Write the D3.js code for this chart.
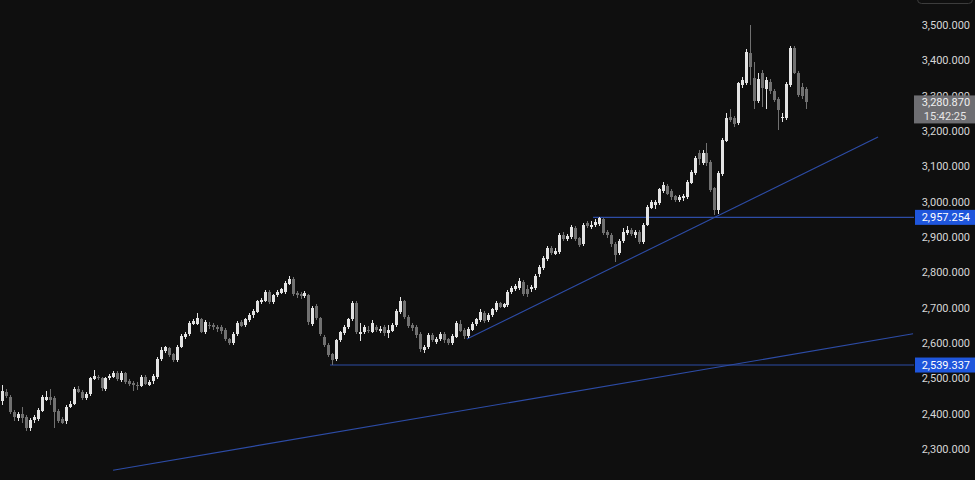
<!DOCTYPE html>
<html><head><meta charset="utf-8">
<script src="https://cdn.jsdelivr.net/npm/d3@7"></script>
<style>html,body{margin:0;padding:0;background:#0f0f0f;}svg{display:block;}</style>
</head><body>
<svg id="chart" width="975" height="480"></svg>
<script>
const opens = [
2435,2462,2448,2405,2388,2400,2390,2360,2383,2385,
2408,2440,2448,2445,2408,2385,2378,2420,2428,2470,
2462,2443,2455,2498,2505,2502,2470,2500,2505,2515,
2495,2515,2492,2486,2482,2478,2505,2482,2492,2505,
2555,2578,2585,2568,2552,2588,2618,2625,2655,2655,
2668,2632,2652,2650,2645,2645,2638,2612,2600,2625,
2660,2650,2665,2678,2688,2715,2718,2745,2715,2735,
2742,2745,2768,2782,2742,2740,2733,2735,2655,2705,
2672,2618,2595,2568,2555,2608,2628,2645,2668,2713,
2625,2632,2638,2632,2645,2633,2645,2628,2635,2650,
2688,2718,2675,2650,2645,2625,2580,2588,2622,2603,
2610,2625,2610,2600,2618,2655,2638,2620,2638,2653,
2665,2685,2665,2678,2693,2712,2703,2708,2745,2752,
2755,2772,2752,2752,2755,2795,2812,2838,2870,2853,
2857,2905,2893,2900,2925,2897,2880,2940,2928,2933,
2938,2950,2915,2905,2880,2855,2888,2912,2920,2905,
2915,2885,2935,2983,2990,2995,3030,3045,3030,3015,
3005,3010,3013,3053,3080,3138,3110,3138,3112,3038,
2976,3078,3172,3240,3236,3222,3330,3335,3422,3350,
3285,3365,3318,3340,3312,3290,3237,3238,3330,3435,
3365,3325,3320];
const highs = [
2480,2470,2452,2410,2405,2420,2395,2388,2395,2415,
2452,2465,2470,2450,2412,2390,2425,2435,2475,2478,
2468,2460,2505,2525,2510,2505,2505,2512,2522,2520,
2520,2518,2498,2492,2490,2510,2510,2495,2512,2560,
2590,2592,2590,2572,2595,2625,2632,2662,2668,2685,
2672,2665,2660,2658,2652,2650,2642,2615,2630,2662,
2665,2672,2685,2695,2722,2728,2750,2750,2740,2750,
2756,2775,2790,2788,2748,2745,2748,2740,2705,2710,
2675,2622,2600,2572,2612,2635,2650,2672,2720,2718,
2658,2652,2648,2665,2652,2648,2650,2652,2658,2695,
2730,2722,2680,2656,2650,2630,2595,2628,2628,2618,
2632,2630,2615,2625,2662,2665,2642,2645,2660,2672,
2695,2690,2685,2700,2718,2716,2714,2750,2760,2768,
2785,2778,2765,2765,2795,2820,2845,2875,2875,2868,
2910,2915,2908,2935,2930,2900,2940,2945,2945,2950,
2958,2955,2920,2910,2885,2893,2925,2930,2925,2920,
2920,2940,2990,3005,3005,3040,3055,3050,3035,3020,
3020,3022,3060,3090,3130,3146,3145,3166,3118,3042,
3088,3180,3250,3262,3242,3340,3352,3432,3500,3395,
3365,3372,3352,3348,3318,3296,3250,3338,3440,3440,
3370,3335,3325];
const lows = [
2425,2445,2400,2380,2380,2375,2350,2352,2375,2380,
2405,2435,2425,2360,2375,2370,2372,2415,2425,2458,
2440,2438,2450,2495,2495,2465,2465,2495,2500,2492,
2490,2485,2478,2465,2468,2475,2480,2478,2485,2497,
2550,2572,2560,2545,2545,2585,2612,2620,2650,2650,
2628,2625,2640,2638,2632,2625,2605,2595,2595,2620,
2645,2645,2660,2672,2685,2710,2715,2710,2710,2730,
2738,2740,2765,2732,2728,2725,2728,2652,2648,2665,
2620,2590,2560,2539,2548,2603,2622,2640,2663,2625,
2605,2625,2628,2628,2630,2628,2620,2615,2630,2645,
2683,2668,2642,2635,2615,2575,2572,2583,2603,2598,
2605,2600,2595,2595,2613,2630,2610,2615,2633,2648,
2660,2658,2660,2673,2688,2698,2698,2703,2740,2748,
2750,2732,2730,2745,2750,2788,2808,2833,2850,2848,
2852,2890,2888,2895,2890,2872,2874,2925,2922,2928,
2930,2905,2898,2872,2830,2850,2883,2905,2902,2898,
2880,2880,2930,2978,2980,2990,3025,3018,3005,3000,
3000,3003,3008,3050,3075,3105,3105,3102,3028,2962,
2966,3072,3168,3225,3212,3218,3322,3330,3330,3262,
3278,3268,3262,3305,3282,3203,3225,3230,3325,3360,
3296,3290,3262];
const closes = [
2465,2450,2405,2390,2400,2388,2360,2383,2390,2410,
2448,2448,2440,2405,2380,2375,2420,2428,2470,2462,
2445,2455,2500,2508,2500,2472,2502,2508,2516,2497,
2515,2490,2485,2480,2478,2505,2485,2490,2508,2555,
2580,2588,2565,2552,2590,2620,2626,2658,2661,2672,
2632,2660,2648,2645,2640,2635,2612,2600,2625,2658,
2648,2667,2680,2690,2718,2722,2745,2715,2735,2745,
2752,2770,2782,2738,2735,2733,2742,2660,2700,2670,
2625,2595,2565,2553,2608,2630,2645,2668,2713,2632,
2632,2645,2634,2658,2638,2640,2628,2637,2652,2690,
2718,2673,2648,2643,2622,2582,2590,2622,2608,2612,
2625,2608,2600,2620,2657,2635,2620,2640,2655,2668,
2688,2663,2680,2695,2712,2703,2710,2745,2755,2760,
2775,2738,2740,2758,2790,2815,2840,2868,2855,2860,
2905,2895,2902,2928,2895,2878,2935,2930,2935,2942,
2955,2912,2905,2880,2850,2888,2915,2920,2908,2913,
2885,2935,2985,2998,3000,3035,3048,3022,3012,3005,
3012,3015,3055,3083,3125,3122,3138,3110,3033,2976,
3080,3175,3238,3232,3220,3335,3345,3425,3380,3285,
3348,3322,3345,3312,3288,3260,3240,3332,3435,3365,
3302,3298,3280.87];

const priceTicks = [2300,2400,2500,2600,2700,2800,2900,3000,3100,3200,3300,3400,3500];
// drawn lines: [startIndex, startPrice, endIndex, endPrice]
const trendLines = [
  [27.9, 2240, 228.9, 2626],
  [116.8, 2611, 220.1, 3183]
];
const levelLines = [
  [82.4, 2539.337],
  [148.5, 2957.254]
];
const lastPrice = 3280.870;
const countdown = "15:42:25";

const svg = d3.select("#chart");
const W = 975, H = 480;
svg.append("rect").attr("width", W).attr("height", H).attr("fill", "#0f0f0f");

const x = d3.scaleLinear().domain([0, closes.length - 1]).range([2, 806]);
const y = d3.scaleLinear().domain([2300, 3500]).range([449, 25]);
const plotRight = 914;

const upCol = "#e3e3e3", downCol = "#717171";
const lineCol = "#2d4ca6";
const font = "Roboto, 'Liberation Sans', sans-serif";

const plot = svg.append("g");
plot.append("clipPath").attr("id", "clip").append("rect")
  .attr("x", 0).attr("y", 0).attr("width", plotRight).attr("height", H);
const pg = plot.append("g").attr("clip-path", "url(#clip)");

// trend lines
pg.selectAll("line.trend").data(trendLines).join("line").attr("class", "trend")
  .attr("x1", d => x(d[0])).attr("y1", d => y(d[1]))
  .attr("x2", d => x(d[2])).attr("y2", d => y(d[3]))
  .attr("stroke", lineCol).attr("stroke-width", 1.1);
pg.selectAll("line.level").data(levelLines).join("line").attr("class", "level")
  .attr("x1", d => x(d[0])).attr("x2", plotRight + 2)
  .attr("y1", d => y(d[1]) + 0.6).attr("y2", d => y(d[1]) + 0.6)
  .attr("stroke", lineCol).attr("stroke-width", 1.1);

// candles
const idx = d3.range(closes.length);
const cg = pg.append("g").attr("shape-rendering", "crispEdges");
cg.selectAll("rect.wick").data(idx).join("rect").attr("class", "wick")
  .attr("x", i => Math.round(x(i)))
  .attr("width", 1)
  .attr("y", i => y(highs[i]))
  .attr("height", i => Math.max(1, y(lows[i]) - y(highs[i])))
  .attr("fill", i => closes[i] >= opens[i] ? upCol : downCol);
cg.selectAll("rect.body").data(idx).join("rect").attr("class", "body")
  .attr("x", i => Math.round(x(i)) - 1)
  .attr("width", 3)
  .attr("y", i => y(Math.max(opens[i], closes[i])))
  .attr("height", i => Math.max(1, Math.abs(y(opens[i]) - y(closes[i]))))
  .attr("fill", i => closes[i] >= opens[i] ? upCol : downCol);

// price axis
const fmt = d3.format(",.3f");
const axis = d3.axisLeft(y).tickValues(priceTicks).tickFormat(fmt).tickSize(0).tickPadding(0);
const ag = svg.append("g").attr("transform", "translate(970,0)").call(axis);
ag.select(".domain").remove();
ag.selectAll("text").attr("fill", "#d6d6d6").attr("font-family", font).attr("font-size", 11);

// level labels
const lab = svg.selectAll("g.lab").data(levelLines).join("g").attr("class", "lab")
  .attr("transform", d => `translate(0,${y(d[1]) + 0.6})`);
lab.append("rect").attr("x", 915).attr("y", -7.5).attr("width", 60).attr("height", 15)
  .attr("fill", "#1f56dc");
lab.append("text").attr("x", 970).attr("y", 0).attr("dy", "0.35em").attr("text-anchor", "end")
  .attr("fill", "#ffffff").attr("font-family", font).attr("font-size", 11)
  .text(d => fmt(d[1]));

// last price label
const ly = y(lastPrice);
const lg = svg.append("g");
lg.append("rect").attr("x", 914).attr("y", ly - 7).attr("width", 61).attr("height", 28)
  .attr("fill", "#6e6e72");
lg.append("text").attr("x", 946).attr("y", ly).attr("dy", "0.35em").attr("text-anchor", "middle")
  .attr("fill", "#f0f0f0").attr("font-family", font).attr("font-size", 11)
  .text(fmt(lastPrice));
lg.append("text").attr("x", 945).attr("y", ly + 13.5).attr("dy", "0.35em").attr("text-anchor", "middle")
  .attr("fill", "#e6e6e6").attr("font-family", font).attr("font-size", 11)
  .text(countdown);

// top-right button outline
svg.append("rect").attr("x", 917.5).attr("y", -20).attr("width", 55).attr("height", 23.5).attr("rx", 4)
  .attr("fill", "none").attr("stroke", "#3c3c3c");
</script>
</body></html>
